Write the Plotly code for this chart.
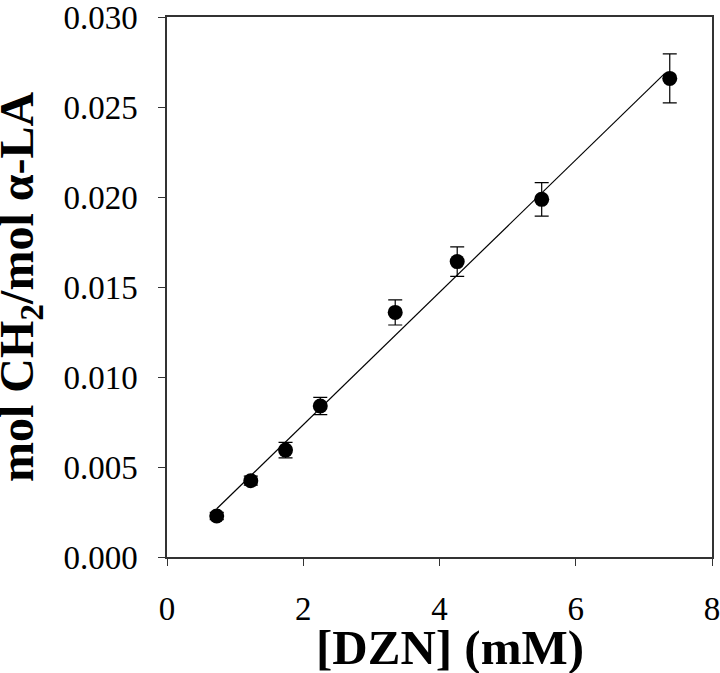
import plotly.graph_objects as go

# Data
dzn_mM = [0.73, 1.23, 1.74, 2.25, 3.35, 4.26, 5.50, 7.38]
ch2_per_la = [0.00228, 0.00424, 0.00594, 0.00839, 0.01359, 0.01641, 0.01987, 0.02659]
ch2_err = [0.0002, 0.00025, 0.00043, 0.00048, 0.0007, 0.00082, 0.00093, 0.00136]

# Regression line end points
fit_x = [0.73, 7.30]
fit_y = [0.00268, 0.02684]

x_ticks = [0, 2, 4, 6, 8]
y_ticks = [0.000, 0.005, 0.010, 0.015, 0.020, 0.025, 0.030]

x_title = "<b>[DZN] (mM)</b>"
y_title = "<b>mol CH<sub>2</sub>/mol α-LA</b>"

FONT = "Liberation Serif, Times New Roman, serif"

fig = go.Figure()
fig.add_trace(go.Scatter(
    x=fit_x, y=fit_y, mode="lines",
    line=dict(color="black", width=1.2),
    showlegend=False, hoverinfo="skip",
))
fig.add_trace(go.Scatter(
    x=dzn_mM, y=ch2_per_la, mode="markers",
    marker=dict(color="black", size=15),
    error_y=dict(type="data", array=ch2_err, visible=True,
                 color="black", thickness=1.2, width=7),
    showlegend=False,
))

axis_common = dict(
    showline=True, linecolor="#333333", linewidth=1.5, mirror=True,
    ticks="outside", ticklen=7, tickwidth=1.2, tickcolor="#333333",
    showgrid=False, zeroline=False, automargin=False,
    ticklabeloverflow="allow",
    tickfont=dict(family=FONT, size=33, color="black"),
)

fig.update_layout(
    width=720, height=673,
    margin=dict(l=167, r=8, t=17, b=116),
    paper_bgcolor="white", plot_bgcolor="white",
    xaxis=dict(
        range=[0, 8], tickvals=x_ticks,
        ticktext=[str(v) for v in x_ticks],
        ticklabelstandoff=15,
        **axis_common,
    ),
    yaxis=dict(
        range=[0, 0.030], tickvals=y_ticks,
        ticktext=[f"{v:.3f}" for v in y_ticks],
        ticklabelstandoff=14,
        **axis_common,
    ),
    annotations=[
        dict(text=x_title, xref="paper", yref="paper",
             x=0.5187, y=-0.1685, xanchor="center", yanchor="middle",
             showarrow=False,
             font=dict(family=FONT, size=49, color="black")),
        dict(text=y_title, xref="paper", yref="paper",
             x=-0.2697, y=0.5, xanchor="center", yanchor="middle",
             textangle=-90, showarrow=False,
             font=dict(family=FONT, size=48, color="black")),
    ],
)

fig.write_html(
    "out.html",
    config={"displayModeBar": False},
    post_script="document.body.style.margin='0';document.body.style.overflow='hidden';",
)
